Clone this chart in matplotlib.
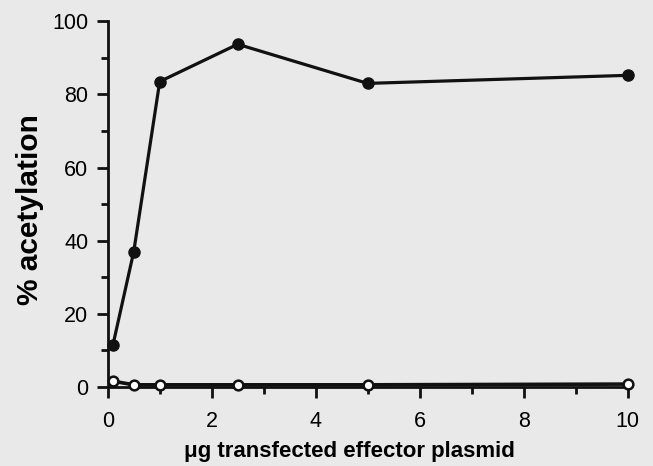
import matplotlib.pyplot as plt
from matplotlib.ticker import MultipleLocator

plt.rcParams['font.family'] = ['Liberation Sans', 'DejaVu Sans']

# ug of effector plasmid transfected
dose = [0.1, 0.5, 1, 2.5, 5, 10]
# % acetylation, filled circles (active effector)
acet_active = [11.5, 37, 83.5, 93.7, 83, 85.2]
# % acetylation, open circles (control)
acet_control = [1.6, 0.6, 0.6, 0.6, 0.6, 0.8]

bg = '#e9e9e9'
fig = plt.figure(figsize=(6.53, 4.66), dpi=100, facecolor=bg)
ax = fig.add_axes([0.165, 0.1695, 0.796, 0.785], facecolor=bg)

ax.plot(dose, acet_active, color='#111111', lw=2.3, marker='o', ms=8,
        mfc='#111111', mec='#111111', clip_on=False, zorder=3)
ax.plot(dose, acet_control, color='#111111', lw=2.6, marker='o', ms=7,
        mfc='white', mec='#111111', mew=1.8, clip_on=False, zorder=4)

ax.set_xlim(0, 10)
ax.set_ylim(0, 100)
ax.xaxis.set_major_locator(MultipleLocator(2))
ax.xaxis.set_minor_locator(MultipleLocator(1))
ax.yaxis.set_major_locator(MultipleLocator(20))
ax.yaxis.set_minor_locator(MultipleLocator(10))

for s in ['top', 'right']:
    ax.spines[s].set_visible(False)
for s in ['left', 'bottom']:
    ax.spines[s].set_linewidth(2)
    ax.spines[s].set_color('#111111')

ax.tick_params(which='major', length=8, width=2, color='#111111',
               labelsize=15.5, pad=6)
ax.tick_params(axis='x', which='major', pad=9)
ax.tick_params(which='minor', length=5, width=2, color='#111111')

ax.set_xlabel('\u03bcg transfected effector plasmid', fontsize=16,
              fontweight='bold')
ax.set_ylabel('% acetylation', fontsize=21.5, fontweight='bold')
ax.xaxis.set_label_coords(0.465, -0.148)
ax.yaxis.set_label_coords(-0.123, 0.484)

fig.savefig('out.png', dpi=100, facecolor=bg)
